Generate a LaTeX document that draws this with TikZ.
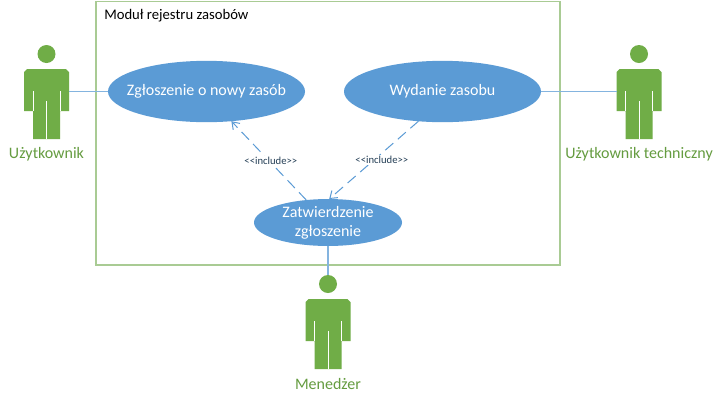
\documentclass[tikz,border=0pt]{standalone}
\usepackage{fontspec}
\setmainfont{Carlito}
\usepackage{tikz}
\usetikzlibrary{arrows.meta,shapes.geometric,positioning}
\definecolor{aktor}{HTML}{70AD47}
\definecolor{przyp}{HTML}{5B9BD5}
\definecolor{ramka}{HTML}{A9CB94}
\tikzset{
	usecase/.style={ellipse,fill=przyp,text=white,inner xsep=-14pt,inner ysep=0pt,outer sep=0pt,align=center,font=\fontsize{12}{14.5}\selectfont},
	actorlabel/.style={text=aktor!90!black,inner sep=0pt,font=\fontsize{12}{14}\selectfont},
	assoc/.style={przyp!75!white,line width=1.1pt},
	incl/.style={przyp,line width=.75pt,dash pattern=on 8pt off 4.5pt,-{Straight Barb[length=5pt,width=7pt]}},
	incllabel/.style={fill=white,text=black!60!przyp,inner sep=1pt,font=\fontsize{8}{9}\selectfont}
}
% ludzik: #1 nazwa, (#2,#3) srodek glowy, #4 podpis, #5 wysokosc podpisu
\def\actor#1(#2,#3)#4#5{
	\begin{scope}[shift={(#2,#3)}]
		\fill[aktor] (-19.5,15) -- (19.5,15) -- (22.5,18) -- (22.5,57) -- (13.5,57) -- (13.5,85) -- (-13.5,85) -- (-13.5,57) -- (-22.5,57) -- (-22.5,18) -- cycle;
		\draw[white,line width=.6pt] (-13.5,37) -- (-13.5,57) (13.5,37) -- (13.5,57) (0,47) -- (0,85);
		\fill[aktor] (0,0) circle (9);
		\coordinate (#1top) at (0,-9);
		\coordinate (#1left) at (-22.5,37.5);
		\coordinate (#1right) at (22.5,37.5);
		\node[actorlabel] (#1label) at (0,#5) {#4};
	\end{scope}
}

\begin{document}
\begin{tikzpicture}[x=.75pt,y=-.75pt]
	\useasboundingbox (0,0) rectangle (722,401);
	\fill[white] (0,0) rectangle (722,401);

	%%%%%%%%%% ramka modulu %%%%%%%%%%
	\draw[ramka,line width=1.4pt] (96,1.5) rectangle (560,265);
	\node[anchor=west,inner sep=0pt,font=\fontsize{11}{13}\selectfont] (modul) at (104,15.5) {Moduł rejestru zasobów};

	%%%%%%%%%% przypadki uzycia %%%%%%%%%%
	\node[usecase,minimum width=147.75pt,minimum height=46pt] (zgloszenie) at (206.5,91.5) {Zgłoszenie o nowy zasób};
	\node[usecase,minimum width=147.75pt,minimum height=46pt] (wydanie) at (442.5,91.5) {Wydanie zasobu};
	\node[usecase,minimum width=111pt,minimum height=33.5pt] (zatwierdzenie) at (328,222.5) {Zatwierdzenie\\zgłoszenie};

	%%%%%%%%%% aktorzy %%%%%%%%%%
	\actor{uzyt}(46.5,54){Użytkownik}{100}
	\actor{tech}(639,54){Użytkownik techniczny}{100}
	\actor{men}(328,284){Menedżer}{100}

	%%%%%%%%%% polaczenia %%%%%%%%%%
	\draw[assoc] (uzytright) -- (zgloszenie.west);
	\draw[assoc] (wydanie.east) -- (techleft);
	\draw[assoc] (zatwierdzenie.south) -- (mentop);
	\draw[incl] (zatwierdzenie.134) -- node[incllabel,pos=.5,xshift=1.5pt] (inclewy) {{<}{<}include{>}{>}} (zgloszenie.-50);
	\draw[incl] (wydanie.-129) -- node[incllabel,pos=.5,xshift=6pt] (inclprawy) {{<}{<}include{>}{>}} (zatwierdzenie.87);
\end{tikzpicture}
\end{document}
